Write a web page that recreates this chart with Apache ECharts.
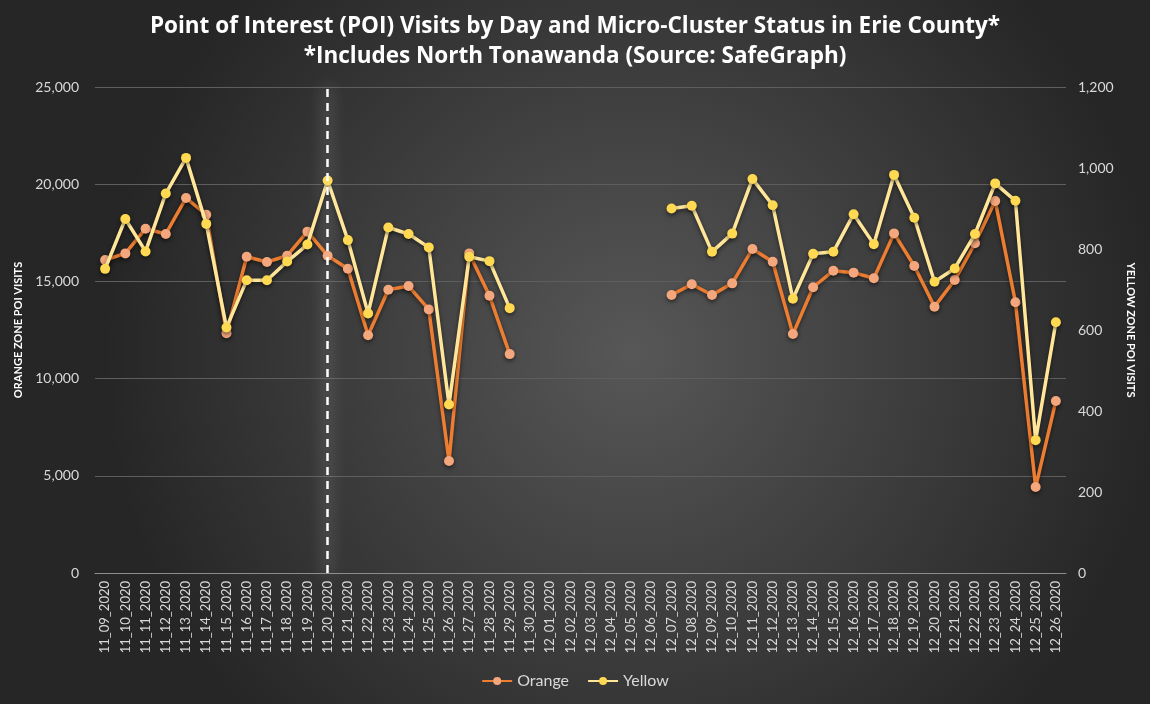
<!DOCTYPE html>
<html>
<head>
<meta charset="utf-8">
<script src="https://cdn.jsdelivr.net/npm/echarts@6/dist/echarts.min.js"></script>
<style>
  html, body { margin: 0; padding: 0; }
  #chart { width: 1150px; height: 704px; }
</style>
</head>
<body>
<div id="chart"></div>
<script>
  // day labels, 11_09_2020 .. 12_26_2020
  const days = [
    '11_09_2020', '11_10_2020', '11_11_2020', '11_12_2020', '11_13_2020', '11_14_2020',
    '11_15_2020', '11_16_2020', '11_17_2020', '11_18_2020', '11_19_2020', '11_20_2020',
    '11_21_2020', '11_22_2020', '11_23_2020', '11_24_2020', '11_25_2020', '11_26_2020',
    '11_27_2020', '11_28_2020', '11_29_2020', '11_30_2020', '12_01_2020', '12_02_2020',
    '12_03_2020', '12_04_2020', '12_05_2020', '12_06_2020', '12_07_2020', '12_08_2020',
    '12_09_2020', '12_10_2020', '12_11_2020', '12_12_2020', '12_13_2020', '12_14_2020',
    '12_15_2020', '12_16_2020', '12_17_2020', '12_18_2020', '12_19_2020', '12_20_2020',
    '12_21_2020', '12_22_2020', '12_23_2020', '12_24_2020', '12_25_2020', '12_26_2020'
  ];

  // orange zone visits (left axis), null = no data
  const orange = [
    16100, 16440, 17710, 17440, 19290, 18430, 12330, 16270, 16000, 16320, 17560, 16320,
    15650, 12230, 14570, 14760, 13560, 5760, 16440, 14260, 11260,
    null, null, null, null, null, null, null,
    14300, 14850, 14300, 14900, 16670, 16010, 12290, 14700, 15550, 15450, 15160,
    17470, 15790, 13700, 15070, 16960, 19140, 13930, 4420, 8850
  ];

  // yellow zone visits (right axis)
  const yellow = [
    751, 874, 794, 937, 1025, 862, 606, 723, 723, 769, 811, 969,
    822, 641, 853, 837, 804, 416, 781, 770, 654,
    null, null, null, null, null, null, null,
    900, 907, 793, 838, 973, 908, 677, 788, 793, 886, 812,
    983, 877, 719, 752, 837, 962, 919, 328, 619
  ];

  const leftTicks = { min: 0, max: 25000, step: 5000 };
  const rightTicks = { min: 0, max: 1200, step: 200 };
  const markDay = '11_20_2020';

  const txt = '#d9d9d9';
  const font = 'Lato';

  const chart = echarts.init(document.getElementById('chart'));
  chart.setOption({
    backgroundColor: {
      type: 'radial', x: 0.55, y: 0.5, r: 0.75,
      colorStops: [
        { offset: 0, color: '#575757' },
        { offset: 1, color: '#262626' }
      ]
    },
    textStyle: { fontFamily: font },
    title: {
      text: 'Point of Interest (POI) Visits by Day and Micro-Cluster Status in Erie County*\n*Includes North Tonawanda (Source: SafeGraph)',
      left: 'center',
      top: 7,
      textStyle: { color: '#ffffff', fontSize: 22.5, fontWeight: 'bold', lineHeight: 30, fontFamily: 'Open Sans' }
    },
    legend: {
      bottom: 10,
      left: 'center',
      itemWidth: 30,
      itemHeight: 10,
      itemGap: 18,
      textStyle: { color: txt, fontSize: 16, fontFamily: font },
      data: ['Orange', 'Yellow']
    },
    grid: { left: 95, right: 84, top: 87, bottom: 131 },
    xAxis: {
      type: 'category',
      data: days,
      boundaryGap: true,
      axisLine: { lineStyle: { color: '#8c8c8c', width: 1 } },
      axisTick: { show: false },
      axisLabel: { rotate: 90, color: txt, fontSize: 13, interval: 0, margin: 8 }
    },
    yAxis: [
      {
        type: 'value',
        min: leftTicks.min, max: leftTicks.max, interval: leftTicks.step,
        name: 'ORANGE ZONE POI VISITS',
        nameLocation: 'middle',
        nameRotate: 90,
        nameGap: 52,
        nameTextStyle: { color: '#ffffff', fontSize: 11, fontWeight: 'bold' },
        axisLine: { show: false },
        axisTick: { show: false },
        axisLabel: { color: txt, fontSize: 14, margin: 16 },
        splitLine: { lineStyle: { color: '#5e5e5e', width: 1 } }
      },
      {
        type: 'value',
        min: rightTicks.min, max: rightTicks.max, interval: rightTicks.step,
        name: 'YELLOW ZONE POI VISITS',
        nameLocation: 'middle',
        nameRotate: -90,
        nameGap: 45,
        nameTextStyle: { color: '#ffffff', fontSize: 11, fontWeight: 'bold' },
        axisLine: { show: false },
        axisTick: { show: false },
        axisLabel: { color: txt, fontSize: 14, margin: 12 },
        splitLine: { show: false }
      }
    ],
    series: [
      {
        name: 'Orange',
        type: 'line',
        yAxisIndex: 0,
        data: orange,
        connectNulls: false,
        symbol: 'circle',
        symbolSize: 10,
        z: 3,
        lineStyle: { color: '#ed7d31', width: 3.5, shadowColor: 'rgba(0,0,0,0.5)', shadowBlur: 4, shadowOffsetY: 2 },
        itemStyle: { color: '#f4a67c', shadowColor: 'rgba(0,0,0,0.5)', shadowBlur: 4, shadowOffsetY: 2 },
        markLine: {
          silent: true,
          symbol: 'none',
          label: { show: false },
          lineStyle: {
            color: '#ffffff', type: [8, 6], width: 2.5,
            shadowColor: 'rgba(255,255,255,1)', shadowBlur: 16
          },
          data: [{ xAxis: markDay }]
        }
      },
      {
        name: 'Yellow',
        type: 'line',
        yAxisIndex: 1,
        data: yellow,
        connectNulls: false,
        symbol: 'circle',
        symbolSize: 10,
        z: 4,
        lineStyle: { color: '#ffe699', width: 3.5, shadowColor: 'rgba(0,0,0,0.5)', shadowBlur: 4, shadowOffsetY: 2 },
        itemStyle: { color: '#ffd951', shadowColor: 'rgba(0,0,0,0.5)', shadowBlur: 4, shadowOffsetY: 2 }
      }
    ]
  });
</script>
</body>
</html>
